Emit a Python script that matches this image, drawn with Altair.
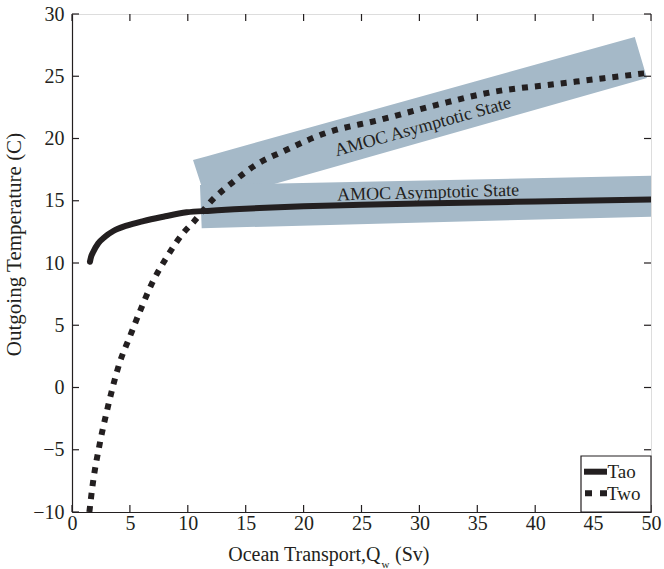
import altair as alt
import pandas as pd

# ---- data ----
series_names = ["Tao", "Two"]

tao_x = [1.55, 1.65, 1.84, 2.27, 2.85, 3.57, 4.72, 6.16, 7.89, 9.9, 12, 14, 16.2, 20, 25, 30, 35, 40, 45, 50]
tao_y = [10.1, 10.5, 10.9, 11.58, 12.11, 12.57, 13.0, 13.37, 13.72, 14.07, 14.2, 14.32, 14.42, 14.55, 14.67, 14.77, 14.86, 14.94, 15.02, 15.1]

two_x = [1.5, 1.8, 2.4, 3.1, 4.1, 5.0, 5.9, 6.9, 8.2, 9.6, 10.5, 12.1, 13.9, 15.9, 18.2, 21.8, 26.6, 31.5, 36.4, 41.6, 46, 50]
two_y = [-10, -7.7, -4.5, -1.55, 1.95, 4.1, 6.2, 8.35, 10.5, 12.4, 13.3, 15.05, 16.5, 17.9, 18.95, 20.4, 21.5, 22.7, 23.75, 24.35, 24.85, 25.3]

x_ticks = [0, 5, 10, 15, 20, 25, 30, 35, 40, 45, 50]
y_ticks = [-10, -5, 0, 5, 10, 15, 20, 25, 30]

# shaded "AMOC Asymptotic State" bands (corner readings)
upper_band_x = [10.45, 11.66, 48.6, 49.65]
upper_band_top = [18.27, 18.58, 28.15, 24.86]
upper_band_bottom = [18.27, 14.82, 24.58, 24.86]

lower_band_x = [11.05, 11.2, 50.0]
lower_band_top = [16.27, 16.27, 17.0]
lower_band_bottom = [16.27, 12.79, 13.72]

annotation_text = ["AMOC Asymptotic State", "AMOC Asymptotic State"]
annotation_x = [30.3, 30.75]
annotation_y = [20.92, 15.62]

x_title_parts = ["Ocean Transport,Q", "w", "(Sv)"]
y_title = "Outgoing Temperature (C)"

# ---- styling ----
FONT = "Liberation Serif"
INK = "#231f20"
BAND = "#a5b9c8"
W, H = 579, 498

xs = alt.Scale(domain=[0, 50], nice=False, zero=False)
ys = alt.Scale(domain=[-10, 30], nice=False, zero=False)

tao_df = pd.DataFrame({"x": tao_x, "y": tao_y})
two_df = pd.DataFrame({"x": two_x, "y": two_y})
up_df = pd.DataFrame({"x": upper_band_x, "top": upper_band_top, "bottom": upper_band_bottom})
lo_df = pd.DataFrame({"x": lower_band_x, "top": lower_band_top, "bottom": lower_band_bottom})
ann_df = pd.DataFrame({"x": annotation_x, "y": annotation_y, "t": annotation_text})
one = pd.DataFrame({"a": [0]})

x_axis = alt.Axis(values=x_ticks, ticks=False, grid=False, title=None, labelFont=FONT,
                  labelFontSize=20, labelColor=INK, labelPadding=1, domainColor=INK,
                  domainWidth=1.2, labelFlush=False)
y_axis = alt.Axis(values=y_ticks, ticks=False, grid=False, title=y_title, labelFont=FONT,
                  labelFontSize=20, labelColor=INK, labelPadding=8, domainColor=INK,
                  domainWidth=1.2, titleFont=FONT, titleFontSize=21, titleFontWeight="normal",
                  titleColor=INK, titleX=-58, titleY=230, titleAngle=270, titleAlign="center",
                  titleBaseline="middle", labelFlush=False)

upper = alt.Chart(up_df).mark_area(color=BAND, clip=True).encode(
    x=alt.X("x:Q", scale=xs, axis=x_axis),
    y=alt.Y("top:Q", scale=ys, axis=y_axis),
    y2="bottom:Q",
)
lower = alt.Chart(lo_df).mark_area(color=BAND, clip=True).encode(
    x=alt.X("x:Q", scale=xs),
    y=alt.Y("top:Q", scale=ys),
    y2="bottom:Q",
)
ann_up = alt.Chart(ann_df.iloc[[0]]).mark_text(font=FONT, fontSize=18, color=INK, angle=344.5,
                                               baseline="middle", align="center").encode(
    x=alt.X("x:Q", scale=xs), y=alt.Y("y:Q", scale=ys), text="t:N")
ann_lo = alt.Chart(ann_df.iloc[[1]]).mark_text(font=FONT, fontSize=18, color=INK, angle=358.5,
                                               baseline="middle", align="center").encode(
    x=alt.X("x:Q", scale=xs), y=alt.Y("y:Q", scale=ys), text="t:N")

two_line = alt.Chart(two_df).mark_line(color=INK, strokeWidth=6, strokeDash=[6, 7],
                                       strokeCap="butt", interpolate="monotone", clip=True).encode(
    x=alt.X("x:Q", scale=xs), y=alt.Y("y:Q", scale=ys))
tao_line = alt.Chart(tao_df).mark_line(color=INK, strokeWidth=6, strokeCap="round",
                                       interpolate="monotone", clip=True).encode(
    x=alt.X("x:Q", scale=xs), y=alt.Y("y:Q", scale=ys))

# inward ticks on all four sides
xt = pd.DataFrame({"v": x_ticks})
yt = pd.DataFrame({"v": y_ticks})
tick_bottom = alt.Chart(xt).mark_rule(color=INK, strokeWidth=1.2).encode(
    x=alt.X("v:Q", scale=xs), y=alt.value(H), y2=alt.value(H - 7))
tick_top = alt.Chart(xt).mark_rule(color=INK, strokeWidth=1.2).encode(
    x=alt.X("v:Q", scale=xs), y=alt.value(0), y2=alt.value(7))
tick_left = alt.Chart(yt).mark_rule(color=INK, strokeWidth=1.2).encode(
    y=alt.Y("v:Q", scale=ys), x=alt.value(0), x2=alt.value(7))
tick_right = alt.Chart(yt).mark_rule(color=INK, strokeWidth=1.2).encode(
    y=alt.Y("v:Q", scale=ys), x=alt.value(W), x2=alt.value(W - 7))

# x title with subscript
xt1 = alt.Chart(one).mark_text(font=FONT, fontSize=20, color=INK, align="right",
                               baseline="alphabetic").encode(
    x=alt.value(308.5), y=alt.value(546.7), text=alt.value(x_title_parts[0]))
xt2 = alt.Chart(one).mark_text(font=FONT, fontSize=11, color=INK, align="left",
                               baseline="alphabetic").encode(
    x=alt.value(309.5), y=alt.value(553.5), text=alt.value(x_title_parts[1]))
xt3 = alt.Chart(one).mark_text(font=FONT, fontSize=20, color=INK, align="left",
                               baseline="alphabetic").encode(
    x=alt.value(323), y=alt.value(546.7), text=alt.value(x_title_parts[2]))

# legend
leg_box = alt.Chart(one).mark_rect(fill="white", stroke=INK, strokeWidth=1.2).encode(
    x=alt.value(509), x2=alt.value(W), y=alt.value(442), y2=alt.value(H))
leg_tao = alt.Chart(one).mark_rule(color=INK, strokeWidth=6).encode(
    x=alt.value(512), x2=alt.value(535), y=alt.value(457.7))
leg_two = alt.Chart(one).mark_rule(color=INK, strokeWidth=6, strokeDash=[7, 8]).encode(
    x=alt.value(513), x2=alt.value(535), y=alt.value(479.3))
leg_t1 = alt.Chart(one).mark_text(font=FONT, fontSize=19, color=INK, align="left",
                                  baseline="alphabetic").encode(
    x=alt.value(535.5), y=alt.value(464.3), text=alt.value(series_names[0]))
leg_t2 = alt.Chart(one).mark_text(font=FONT, fontSize=19, color=INK, align="left",
                                  baseline="alphabetic").encode(
    x=alt.value(535), y=alt.value(486), text=alt.value(series_names[1]))

chart = alt.layer(
    upper, lower, ann_up, ann_lo, two_line, tao_line,
    tick_bottom, tick_top, tick_left, tick_right,
    xt1, xt2, xt3, leg_box, leg_tao, leg_two, leg_t1, leg_t2,
).properties(
    width=W, height=H,
    autosize=alt.AutoSizeParams(type="none"),
    padding={"left": 72, "top": 14, "right": 13, "bottom": 57},
).configure_view(stroke=INK, strokeWidth=1.2).configure(background="white")

chart.save("out.html", embed_options={"renderer": "svg", "actions": False})
